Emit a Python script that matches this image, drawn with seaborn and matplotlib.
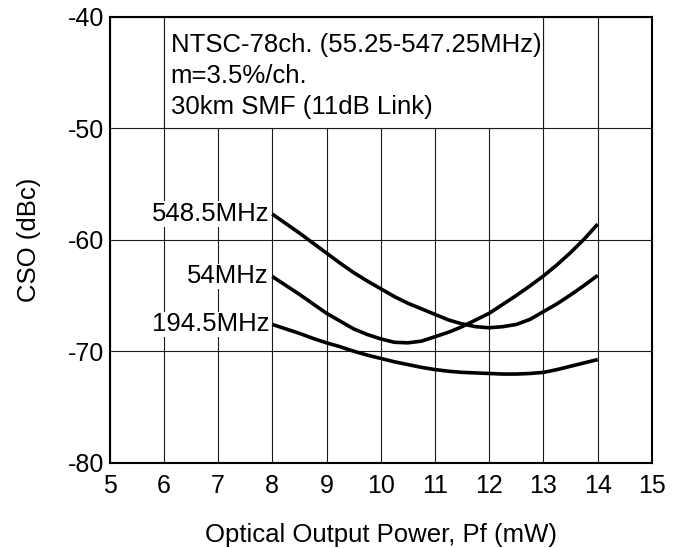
import pandas as pd
import matplotlib
matplotlib.use("Agg")
import matplotlib.pyplot as plt
from matplotlib.patches import Rectangle
import seaborn as sns

# values (every 0.25 mW)
power_mw = [8, 8.25, 8.5, 8.75, 9, 9.25, 9.5, 9.75, 10, 10.25, 10.5, 10.75, 11,
            11.25, 11.5, 11.75, 12, 12.25, 12.5, 12.75, 13, 13.25, 13.5, 13.75, 14]
cso_548_5 = [-57.7, -58.55, -59.4, -60.3, -61.2, -62.1, -62.95, -63.7, -64.4, -65.1, -65.7, -66.2, -66.7,
             -67.2, -67.55, -67.8, -67.9, -67.8, -67.6, -67.15, -66.45, -65.75, -64.95, -64.1, -63.2]
cso_54 = [-63.3, -64.1, -64.9, -65.75, -66.6, -67.3, -68.0, -68.5, -68.9, -69.2, -69.25, -69.1, -68.7,
          -68.3, -67.8, -67.2, -66.6, -65.8, -65.0, -64.15, -63.25, -62.25, -61.15, -59.95, -58.6]
cso_194_5 = [-67.6, -68.0, -68.4, -68.85, -69.25, -69.6, -70.0, -70.35, -70.65, -70.95, -71.2, -71.45, -71.65,
             -71.8, -71.9, -71.95, -72.0, -72.05, -72.05, -72.0, -71.9, -71.65, -71.35, -71.05, -70.75]
series_names = ["548.5MHz", "54MHz", "194.5MHz"]
x_ticks = list(range(5, 16))
y_ticks = [-80, -70, -60, -50, -40]
note_lines = ["NTSC-78ch. (55.25-547.25MHz)", "m=3.5%/ch.", "30km SMF (11dB Link)"]

df = pd.DataFrame({
    "power": power_mw * 3,
    "cso": cso_548_5 + cso_54 + cso_194_5,
    "freq": [n for n in series_names for _ in power_mw],
})

sns.set_theme(style="white")
plt.rcParams["font.family"] = ["Liberation Sans", "DejaVu Sans"]
plt.rcParams["axes.unicode_minus"] = False

fig = plt.figure(figsize=(6.79, 5.48), dpi=100)
ax = fig.add_axes([0.1613, 0.1557, 0.7989, 0.8138])

sns.lineplot(data=df, x="power", y="cso", hue="freq", units="freq", estimator=None,
             palette=["black"] * 3, linewidth=2.6, legend=False, ax=ax, zorder=4,
             solid_capstyle="butt", solid_joinstyle="round")

ax.set_xlim(5, 15)
ax.set_ylim(-80, -40)
ax.set_xticks(x_ticks)
ax.set_yticks(y_ticks)
ax.grid(True, color="#1a1a1a", linewidth=0.8)
ax.set_axisbelow(True)
for s in ax.spines.values():
    s.set_color("black")
    s.set_linewidth(1.5)
    s.set_zorder(6)
ax.tick_params(axis="both", length=0, labelsize=18, colors="black")
ax.tick_params(axis="y", pad=4)
ax.tick_params(axis="x", pad=8)

# white note box hiding the grid in the top band
ax.add_patch(Rectangle((6, -50), 7, 10, facecolor="white", edgecolor="#1a1a1a",
                       linewidth=0.8, zorder=2))
for i, line in enumerate(note_lines):
    ax.text(6.13, -43.2 - 2.75 * i, line, fontsize=18.5, ha="left", va="baseline",
            color="black", zorder=5)

# curve labels at the start of each line
for name, vals in zip(series_names, [cso_548_5, cso_54, cso_194_5]):
    ax.text(power_mw[0] - 0.06, vals[0], name, fontsize=18.5, ha="right", va="center",
            color="black", zorder=5,
            bbox=dict(facecolor="white", edgecolor="none", pad=0.5))

ax.set_xlabel("Optical Output Power, Pf (mW)", fontsize=18.5, color="black", labelpad=18)
ax.set_ylabel("CSO (dBc)", fontsize=18.5, color="black", labelpad=19)

fig.savefig("out.png", dpi=100, facecolor="white")
